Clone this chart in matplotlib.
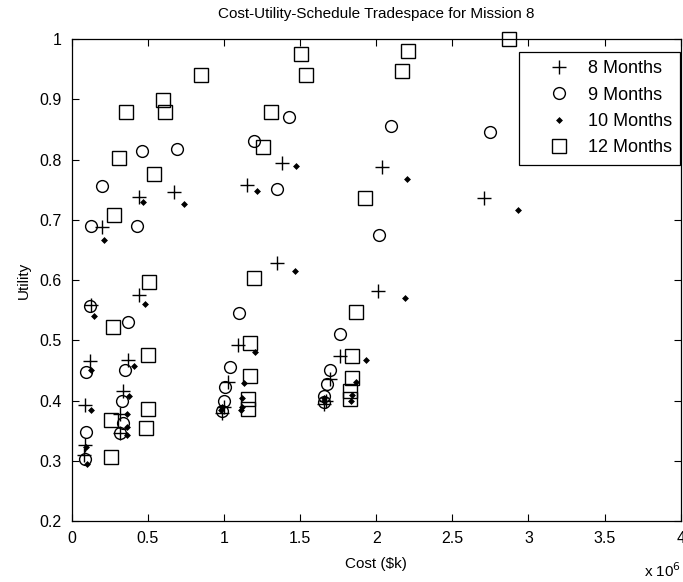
import matplotlib
matplotlib.use('Agg')
import matplotlib.pyplot as plt

# cost in units of 1e6 $k, utility 0-1
m8_cost = [0.08, 0.09, 0.09, 0.12, 0.13, 0.20,
           0.32, 0.32, 0.34, 0.37, 0.44, 0.44, 0.67,
           0.99, 1.00, 1.03, 1.09, 1.15, 1.35, 1.38,
           1.66, 1.67, 1.70, 1.76, 2.01, 2.04, 2.71]
m8_util = [0.31, 0.326, 0.392, 0.466, 0.558, 0.688,
           0.346, 0.377, 0.415, 0.467, 0.575, 0.738, 0.747,
           0.38, 0.39, 0.431, 0.492, 0.757, 0.629, 0.795,
           0.395, 0.40, 0.435, 0.474, 0.582, 0.788, 0.736]

m9_cost = [0.09, 0.095, 0.095, 0.12, 0.13, 0.20,
           0.32, 0.34, 0.33, 0.35, 0.37, 0.43, 0.46, 0.69,
           0.99, 1.00, 1.01, 1.04, 1.10, 1.20, 1.35, 1.43,
           1.655, 1.66, 1.68, 1.70, 1.76, 2.02, 2.10, 2.75]
m9_util = [0.303, 0.347, 0.448, 0.557, 0.690, 0.756,
           0.346, 0.362, 0.40, 0.45, 0.531, 0.690, 0.814, 0.817,
           0.383, 0.40, 0.422, 0.456, 0.545, 0.831, 0.751, 0.871,
           0.397, 0.408, 0.428, 0.451, 0.51, 0.674, 0.856, 0.845]

m10_cost = [0.10, 0.095, 0.126, 0.128, 0.148, 0.214,
            0.363, 0.363, 0.367, 0.375, 0.41, 0.48, 0.472, 0.736,
            0.98, 0.99, 1.11, 1.12, 1.12, 1.13, 1.205, 1.218, 1.47, 1.476,
            1.656, 1.66, 1.832, 1.84, 1.865, 1.931, 2.19, 2.20, 2.93]
m10_util = [0.294, 0.323, 0.384, 0.451, 0.54, 0.666,
            0.343, 0.356, 0.377, 0.407, 0.458, 0.561, 0.729, 0.727,
            0.385, 0.39, 0.385, 0.39, 0.405, 0.429, 0.481, 0.748, 0.615, 0.789,
            0.40, 0.405, 0.40, 0.41, 0.431, 0.468, 0.571, 0.767, 0.716]

m12_cost = [0.26, 0.26, 0.49, 0.50, 0.50, 0.27, 0.51, 0.28, 0.54, 0.31, 0.36, 0.60, 0.615, 0.85,
            1.16, 1.16, 1.17, 1.17, 1.20, 1.26, 1.31, 1.51, 1.54,
            1.83, 1.83, 1.84, 1.84, 1.865, 1.93, 2.17, 2.21, 2.87]
m12_util = [0.307, 0.368, 0.354, 0.386, 0.476, 0.522, 0.596, 0.708, 0.776, 0.802, 0.879, 0.899, 0.879, 0.94,
            0.386, 0.403, 0.441, 0.495, 0.604, 0.821, 0.879, 0.976, 0.94,
            0.402, 0.416, 0.438, 0.474, 0.547, 0.737, 0.947, 0.98, 1.0]

xticks = [0, 0.5, 1, 1.5, 2, 2.5, 3, 3.5, 4]
xticklabels = ['0', '0.5', '1', '1.5', '2', '2.5', '3', '3.5', '4']
yticks = [0.2, 0.3, 0.4, 0.5, 0.6, 0.7, 0.8, 0.9, 1.0]
yticklabels = ['0.2', '0.3', '0.4', '0.5', '0.6', '0.7', '0.8', '0.9', '1']

plt.rcParams['font.family'] = ['Liberation Sans', 'DejaVu Sans']
plt.rcParams['font.size'] = 11

fig = plt.figure(figsize=(6.83, 5.82), dpi=100)
ax = fig.add_axes([0.1047, 0.1048, 0.892, 0.828])

ax.plot(m8_cost, m8_util, '+', color='black', ms=9.5, mew=1, label='8 Months', clip_on=False)
ax.plot(m9_cost, m9_util, 'o', color='black', mfc='none', ms=8.5, mew=1, label='9 Months', clip_on=False)
ax.plot(m10_cost, m10_util, 'D', color='black', ms=3, mew=0.5, label='10 Months', clip_on=False)
ax.plot(m12_cost, m12_util, 's', color='black', mfc='none', ms=9.5, mew=1, label='12 Months', clip_on=False)

ax.set_xlim(0, 4)
ax.set_ylim(0.2, 1)
ax.set_xticks(xticks)
ax.set_xticklabels(xticklabels)
ax.set_yticks(yticks)
ax.set_yticklabels(yticklabels)
ax.tick_params(direction='in', top=True, right=True, length=5, width=0.8, labelsize=11.5)
ax.tick_params(axis='x', pad=7)
ax.tick_params(axis='y', pad=7)
for s in ax.spines.values():
    s.set_linewidth(0.9)

ax.set_title('Cost-Utility-Schedule Tradespace for Mission 8', fontsize=11, pad=15)
ax.set_xlabel('Cost ($k)', fontsize=11, labelpad=8)
ax.set_ylabel('Utility', fontsize=11, labelpad=6)
ax.text(1.0, -0.083, r'x 10$^6$', transform=ax.transAxes, ha='right', va='top', fontsize=11)

leg = ax.legend(loc='upper right', bbox_to_anchor=(0.999, 0.973), borderaxespad=0,
                fancybox=False, framealpha=1, edgecolor='black', fontsize=13,
                labelspacing=0.52, handletextpad=-0.1, borderpad=0.45, handlelength=3.45)
leg.get_frame().set_linewidth(0.9)

fig.savefig('out.png', dpi=100)
